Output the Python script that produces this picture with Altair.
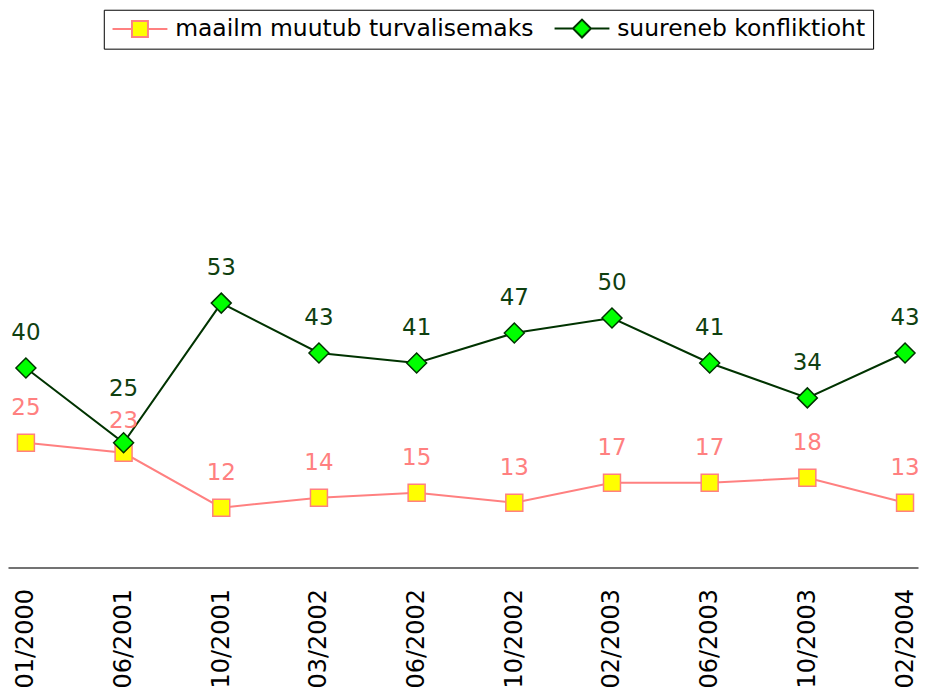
import altair as alt
import pandas as pd

dates = ["01/2000", "06/2001", "10/2001", "03/2002", "06/2002",
         "10/2002", "02/2003", "06/2003", "10/2003", "02/2004"]
series_names = ["maailm muutub turvalisemaks", "suureneb konfliktioht"]
safer = [25, 23, 12, 14, 15, 13, 17, 17, 18, 13]
conflict = [40, 25, 53, 43, 41, 47, 50, 41, 34, 43]

line_colors = ["#FF8080", "#003300"]
fill_colors = ["#FFFF00", "#00FF00"]
text_colors = ["#FF8080", "#0F4010"]
legend_paths = [
    "M-1,0H0.95M2.55,0H4.5M0.95,-0.8H2.55V0.8H0.95Z",
    "M-1,0H0.85M2.65,0H4.5M0.85,0L1.75,-0.9L2.65,0L1.75,0.9Z",
]

rows = []
for d, a, b in zip(dates, safer, conflict):
    rows.append({"date": d, "series": series_names[0], "value": a})
    rows.append({"date": d, "series": series_names[1], "value": b})
df = pd.DataFrame(rows)
wide = pd.DataFrame({"date": dates, "safer": safer, "conflict": conflict})

FONT = "DejaVu Sans"

x_enc = alt.X("date:N", sort=dates,
              scale=alt.Scale(type="point", padding=0.158, align=0.58),
              axis=alt.Axis(title=None, labelAngle=270, ticks=False,
                            labelFontSize=24, labelFont=FONT, labelColor="#000000",
                            labelPadding=21, domainColor="#444444",
                            domainWidth=1.5, grid=False))
y_scale = alt.Scale(domain=[0, 100], nice=False, zero=True)
y_enc = alt.Y("value:Q", scale=y_scale, axis=None)
stroke_enc = alt.Stroke("series:N", scale=alt.Scale(domain=series_names, range=line_colors),
                        legend=alt.Legend(title=None))
fill_enc = alt.Fill("series:N", scale=alt.Scale(domain=series_names, range=fill_colors),
                    legend=alt.Legend(title=None))

base = alt.Chart(df)

lines = base.mark_line(strokeWidth=2).encode(
    x=x_enc, y=y_enc, stroke=stroke_enc, detail="series:N")

pts_a = base.transform_filter(alt.datum.series == series_names[0]).mark_point(
    shape="square", size=289, filled=True, opacity=1, strokeWidth=1.5
).encode(x=x_enc, y=y_enc, fill=fill_enc, stroke=stroke_enc)

pts_b = base.transform_filter(alt.datum.series == series_names[1]).mark_point(
    shape="diamond", size=400, filled=True, opacity=1, strokeWidth=1.5
).encode(x=x_enc, y=y_enc, fill=fill_enc, stroke=stroke_enc)

legend_layer = base.transform_filter("false").mark_point(
    filled=True, opacity=1, strokeWidth=2
).encode(
    x=x_enc, y=y_enc, fill=fill_enc, stroke=stroke_enc,
    shape=alt.Shape("series:N", scale=alt.Scale(domain=series_names, range=legend_paths),
                    legend=alt.Legend(title=None)))

wbase = alt.Chart(wide)

txt_a = wbase.transform_calculate(
    label_y="datum.safer + (abs(datum.conflict - datum.safer) < 5 ? -0.6 : 0)"
).mark_text(
    dy=-28, baseline="alphabetic", fontSize=23, font=FONT, color=text_colors[0]
).encode(x=x_enc, y=alt.Y("label_y:Q", scale=y_scale, axis=None), text="safer:Q")

txt_b = wbase.transform_calculate(
    label_y="datum.conflict + (abs(datum.conflict - datum.safer) < 5 ? 3.8 : 0)"
).mark_text(
    dy=-28, baseline="alphabetic", fontSize=23, font=FONT, color=text_colors[1]
).encode(x=x_enc, y=alt.Y("label_y:Q", scale=y_scale, axis=None), text="conflict:Q")

chart = alt.layer(lines, pts_a, pts_b, legend_layer, txt_a, txt_b).properties(
    width=912, height=500, padding=0
).configure_view(stroke=None).configure_legend(
    orient="none", legendX=96, legendY=-59, direction="horizontal",
    strokeColor="#000000", fillColor="#FFFFFF", padding=7,
    labelFontSize=23.5, labelFont=FONT, labelColor="#000000",
    symbolSize=400, symbolStrokeWidth=2, columnPadding=16, labelOffset=41,
    labelLimit=0
)

chart.save("out.html", embed_options={"renderer": "svg", "actions": False})
